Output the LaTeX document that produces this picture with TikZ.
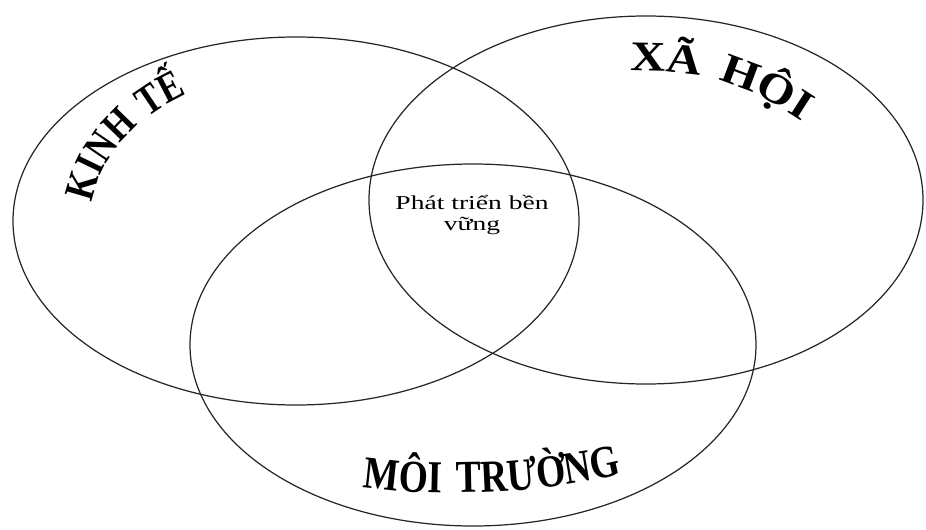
\documentclass[tikz,border=0pt]{standalone}
\usepackage{fontspec}
\setmainfont{Liberation Serif}
\newfontfamily\widefont[FakeStretch=1.4]{Liberation Serif}
\newfontfamily\narrowfont[FakeStretch=0.82]{Liberation Serif}
\newfontfamily\broadfont[FakeStretch=1.15]{Liberation Serif}
\usetikzlibrary{decorations.text}
\newcommand\kinhfont{\narrowfont\fontsize{24}{28}\selectfont\bfseries}
\newcommand\xahoifont{\broadfont\fontsize{24}{28}\selectfont\bfseries}
\newcommand\moifont{\narrowfont\fontsize{26}{30}\selectfont\bfseries}

\begin{document}
\begin{tikzpicture}[
  ring/.style={draw=black!85,line width=0.7pt},
  arclbl/.style={decorate,decoration={text along path,text align={fit to path stretching spaces}}},
  core/.style={font=\widefont\fontsize{11.2}{11.4}\selectfont,align=center,inner sep=0pt},
]
\useasboundingbox (0,0) rectangle (18.52,10.58);

% the three spheres
\draw[ring] (5.92,6.16) ellipse[x radius=5.66,y radius=3.68];
\draw[ring] (12.92,6.58) ellipse[x radius=5.54,y radius=3.68];
\draw[ring] (9.46,3.68) ellipse[x radius=5.66,y radius=3.62];

% centre
\node[core,anchor=base] (ptbv) at (9.44,5.98) {Phát triển bền\\vững};

% curved labels
\path[arclbl,decoration={text={|\kinhfont|KINH TẾ}}]
  (5.92,6.16) ++(173:4.10 and 3.00) arc[start angle=173,end angle=122,x radius=4.10,y radius=3.00];
\path[arclbl,decoration={text={|\xahoifont|XÃ HỘI}}]
  (12.60,9.16) .. controls (13.90,9.16) and (14.70,9.05) .. (16.05,8.15);
\path[arclbl,decoration={text={|\moifont|MÔI TRƯỜNG}}]
  (7.26,0.84) .. controls (8.60,0.64) and (10.80,0.68) .. (12.44,1.10);
\end{tikzpicture}
\end{document}
